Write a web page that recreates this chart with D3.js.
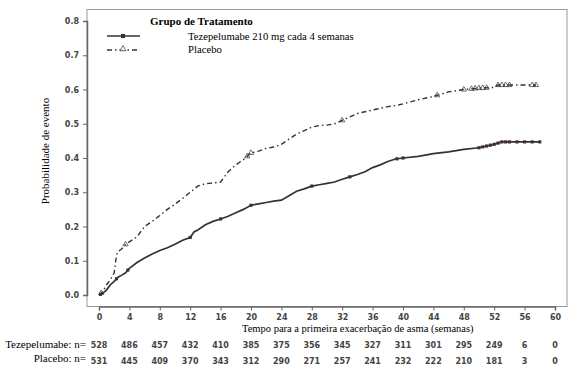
<!DOCTYPE html>
<html>
<head>
<meta charset="utf-8">
<script src="https://cdn.jsdelivr.net/npm/d3@7"></script>
<style>
  body { margin: 0; background: #fff; }
</style>
</head>
<body>
<svg width="576" height="375"></svg>
<script>
  const svg = d3.select("svg");

  // escolhe a primeira fonte serifada que existir de fato
  function hasFont(name) {
    const ctx = document.createElement("canvas").getContext("2d");
    const s = "Tezepelumabe mmmWWiil 0123";
    ctx.font = "20px monospace";
    const w0 = ctx.measureText(s).width;
    ctx.font = `20px '${name}', monospace`;
    return ctx.measureText(s).width !== w0;
  }
  const serifCandidates = ["Liberation Serif", "Times New Roman", "Tinos", "DejaVu Serif", "Noto Serif", "FreeSerif", "Times"];
  const found = serifCandidates.find(hasFont);
  const SERIF = found ? `'${found}', serif` : "serif";
  const SANS = "'DejaVu Sans', Verdana, sans-serif";

  // Tezepelumabe 210 mg (curva de Kaplan-Meier, 1 - S(t))
  const tezeWeeks = [0,0.5,1,1.5,2,2.5,3,3.5,4,5,6,7,8,9,10,11,12,12.5,13,14,15,16,17,18,19,20,21,22,23,24,25,26,27,28,29,30,31,32,33,34,35,36,37,38,39,40,42,44,46,48,50,51,52,53,58];
  const tezeProb  = [0,0.005,0.015,0.03,0.04,0.052,0.058,0.065,0.078,0.095,0.108,0.12,0.13,0.138,0.148,0.16,0.168,0.184,0.19,0.205,0.215,0.222,0.23,0.24,0.25,0.262,0.266,0.27,0.274,0.277,0.29,0.303,0.31,0.318,0.322,0.326,0.33,0.338,0.345,0.352,0.36,0.372,0.38,0.39,0.397,0.40,0.405,0.413,0.418,0.425,0.43,0.435,0.44,0.447,0.447];
  const tezeCensor = [0.2,2.3,3.8,12,16,20,28,33,39.2,40,50,50.5,51,51.5,52,52.5,53,53.5,54,55,56,57,58];

  // Placebo
  const placWeeks = [0,0.5,1,1.5,2,2.2,2.4,3,3.5,4,5,6,7,8,9,10,11,12,13,14,15,16,17,18,19,20,21,22,23,24,25,26,27,28,29,30,31,32,33,34,35,36,37,38,39,40,42,44,46,48,50,52,52.5,57.5];
  const placProb  = [0,0.01,0.03,0.045,0.065,0.10,0.125,0.135,0.148,0.155,0.17,0.2,0.215,0.232,0.25,0.265,0.282,0.3,0.318,0.325,0.327,0.33,0.36,0.38,0.395,0.415,0.42,0.428,0.432,0.44,0.455,0.47,0.48,0.49,0.495,0.496,0.5,0.51,0.52,0.53,0.535,0.54,0.545,0.55,0.553,0.558,0.57,0.58,0.593,0.6,0.604,0.606,0.613,0.613];
  const placCensor = [0.3,3.5,19.5,20,32,44.5,48,49,49.5,50,50.5,51,52.5,53,53.5,54,57,57.5];

  // Número em risco
  const riskWeeks = [0,4,8,12,16,20,24,28,32,36,40,44,48,52,56,60];
  const tezeRisk = [528,486,457,432,410,385,375,356,345,327,311,301,295,249,6,0];
  const placRisk = [531,445,409,370,343,312,290,271,257,241,232,222,210,181,3,0];

  const xTicks = d3.range(0, 61, 4);
  const yTicks = [0,0.1,0.2,0.3,0.4,0.5,0.6,0.7,0.8];

  const lineColor = "#3b302c";

  // escalas
  const x = d3.scaleLinear().domain([0, 60]).range([99, 555]);
  const y = d3.scaleLinear().domain([0, 0.8]).range([295, 21]);

  // moldura
  svg.append("rect")
    .attr("x", 87).attr("y", 9.5).attr("width", 480).attr("height", 297)
    .attr("fill", "none").attr("stroke", "#999").attr("stroke-width", 1);

  // eixos
  const xAxis = svg.append("g").attr("transform", "translate(0,306.5)")
    .call(d3.axisBottom(x).tickValues(xTicks).tickSize(4).tickPadding(4).tickFormat(d3.format("d")));
  const yAxis = svg.append("g").attr("transform", "translate(87,0)")
    .call(d3.axisLeft(y).tickValues(yTicks).tickSize(4).tickPadding(4).tickFormat(d3.format(".1f")));
  [xAxis, yAxis].forEach(g => {
    g.select(".domain").attr("stroke", "#666").attr("stroke-width", 1.5);
    g.selectAll(".tick line").attr("stroke", "#666");
    g.selectAll(".tick text").attr("font-family", SANS).attr("font-weight", "bold")
      .attr("font-size", 8).attr("fill", "#444");
  });

  // curvas
  const line = d3.line().x(d => x(d[0])).y(d => y(d[1]));
  const tezeData = tezeWeeks.map((w, i) => [w, tezeProb[i]]);
  const placData = placWeeks.map((w, i) => [w, placProb[i]]);

  svg.append("path").datum(placData).attr("d", line)
    .attr("fill", "none").attr("stroke", lineColor).attr("stroke-width", 1.4)
    .attr("stroke-dasharray", "5,3,1.5,3");
  svg.append("path").datum(tezeData).attr("d", line)
    .attr("fill", "none").attr("stroke", lineColor).attr("stroke-width", 1.7);

  // valor da curva em t, para pôr a marca de censura sobre a linha
  function valueAt(weeks, probs, t) {
    return d3.scaleLinear().domain(weeks).range(probs)(t);
  }

  const square = d3.symbol().type(d3.symbolSquare).size(10);
  const triangle = d3.symbol().type(d3.symbolTriangle).size(12);

  svg.append("g").selectAll("path").data(tezeCensor).join("path")
    .attr("d", square)
    .attr("transform", d => `translate(${x(d)},${y(valueAt(tezeWeeks, tezeProb, d))})`)
    .attr("fill", lineColor);
  svg.append("g").selectAll("path").data(placCensor).join("path")
    .attr("d", triangle)
    .attr("transform", d => `translate(${x(d)},${y(valueAt(placWeeks, placProb, d))})`)
    .attr("fill", "none").attr("stroke", lineColor).attr("stroke-width", 0.7);

  // legenda
  svg.append("text").attr("font-family", SERIF).attr("x", 150).attr("y", 25)
    .attr("font-size", 11).attr("font-weight", "bold").text("Grupo de Tratamento");
  svg.append("line").attr("x1", 107).attr("x2", 140).attr("y1", 36).attr("y2", 36)
    .attr("stroke", lineColor).attr("stroke-width", 1.6);
  svg.append("path").attr("d", d3.symbol().type(d3.symbolSquare).size(16))
    .attr("transform", "translate(123,36)").attr("fill", lineColor);
  svg.append("line").attr("x1", 107).attr("x2", 140).attr("y1", 50).attr("y2", 50)
    .attr("stroke", lineColor).attr("stroke-width", 1.4).attr("stroke-dasharray", "5,3,1.5,3");
  svg.append("path").attr("d", d3.symbol().type(d3.symbolTriangle).size(16))
    .attr("transform", "translate(123,49)").attr("fill", "#fff").attr("stroke", lineColor).attr("stroke-width", 0.7);
  svg.append("text").attr("font-family", SERIF).attr("x", 188).attr("y", 40)
    .attr("font-size", 10.7).text("Tezepelumabe 210 mg cada 4 semanas");
  svg.append("text").attr("font-family", SERIF).attr("x", 188).attr("y", 53)
    .attr("font-size", 10.7).text("Placebo");

  // títulos dos eixos
  svg.append("text").attr("font-family", SERIF).attr("font-size", 11)
    .attr("transform", "translate(49,151) rotate(-90)").attr("text-anchor", "middle")
    .text("Probabilidade de evento");
  svg.append("text").attr("font-family", SERIF).attr("font-size", 10.5)
    .attr("x", 242).attr("y", 332)
    .text("Tempo para a primeira exacerbação de asma (semanas)");

  // tabela de número em risco
  svg.append("text").attr("font-family", SERIF).attr("font-size", 11)
    .attr("x", 86).attr("y", 348).attr("text-anchor", "end").text("Tezepelumabe: n=");
  svg.append("text").attr("font-family", SERIF).attr("font-size", 11)
    .attr("x", 86).attr("y", 362).attr("text-anchor", "end").text("Placebo: n=");

  svg.append("g").selectAll("text").data(tezeRisk).join("text")
    .attr("font-family", SANS).attr("font-weight", "bold").attr("font-size", 8).attr("fill", "#444")
    .attr("x", (d, i) => x(riskWeeks[i])).attr("y", 348).attr("text-anchor", "middle")
    .text(d => d);
  svg.append("g").selectAll("text").data(placRisk).join("text")
    .attr("font-family", SANS).attr("font-weight", "bold").attr("font-size", 8).attr("fill", "#444")
    .attr("x", (d, i) => x(riskWeeks[i])).attr("y", 364).attr("text-anchor", "middle")
    .text(d => d);
</script>
</body>
</html>
